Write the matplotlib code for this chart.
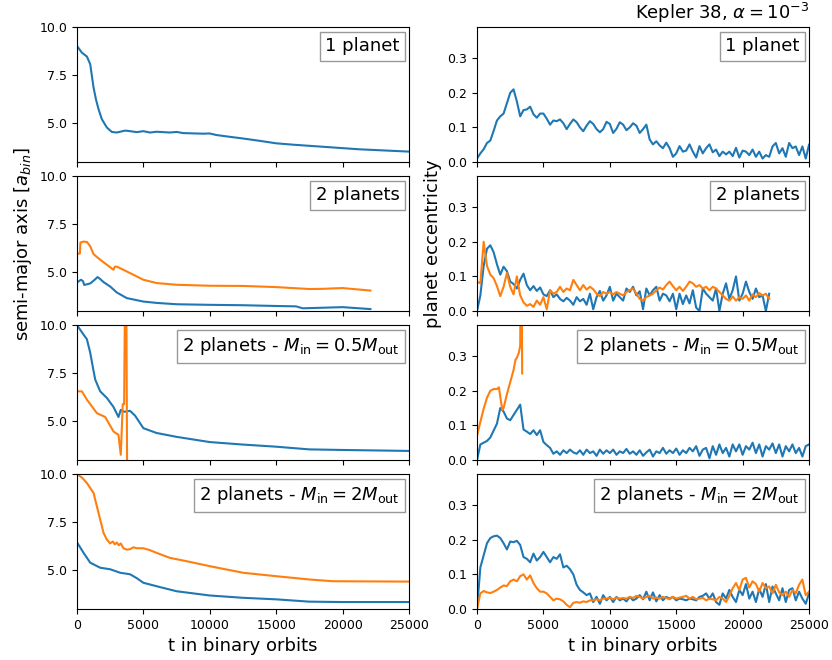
import numpy as np
import matplotlib
matplotlib.use("Agg")
import matplotlib.pyplot as plt

# time grid for the eccentricity series (binary orbits)
t_grid = np.arange(0, 25001, 250)
t_grid_2p = np.arange(0, 22001, 250)

# --- semi-major axis [a_bin] ---
t_a1 = [0, 375, 750, 1000, 1125, 1250, 1430, 1625, 1875, 2250, 2625, 3000, 3630, 4000, 4500,
        5000, 5500, 6000, 6500, 7000, 7500, 8000, 9000, 9500, 10000, 10500, 11250, 12500,
        13750, 15000, 16250, 17500, 18750, 20000, 21250, 22500, 23750, 25000]
a1 = [9.02, 8.67, 8.47, 8.07, 7.46, 6.86, 6.25, 5.74, 5.22, 4.79, 4.56, 4.53, 4.63, 4.6, 4.55,
      4.6, 4.53, 4.57, 4.55, 4.53, 4.56, 4.5, 4.48, 4.47, 4.48, 4.4, 4.33, 4.22,
      4.1, 3.97, 3.9, 3.84, 3.78, 3.72, 3.66, 3.62, 3.58, 3.54]

t_a2_in = [0, 300, 450, 550, 1000, 1300, 1550, 1750, 2000, 2500, 3000, 3750, 5000, 6000,
           7500, 10000, 12500, 15000, 16500, 17000, 18000, 20000, 22100]
a2_in = [4.48, 4.62, 4.55, 4.35, 4.43, 4.6, 4.76, 4.66, 4.5, 4.27, 3.96, 3.67, 3.49, 3.42,
         3.35, 3.32, 3.3, 3.26, 3.24, 3.14, 3.16, 3.2, 3.1]
t_a2_out = [0, 220, 260, 500, 750, 900, 1000, 1250, 1500, 1750, 2250, 2750, 2850, 3000,
            3250, 3750, 4250, 5000, 6000, 7500, 10000, 12500, 15000, 17500, 18500, 20000, 22100]
a2_out = [5.97, 5.98, 6.55, 6.6, 6.58, 6.45, 6.35, 5.95, 5.8, 5.66, 5.4, 5.14, 5.3, 5.3,
          5.22, 5.05, 4.88, 4.62, 4.45, 4.36, 4.31, 4.3, 4.24, 4.14, 4.15, 4.19, 4.06]

t_a3_in = [0, 500, 750, 1000, 1200, 1375, 1750, 2250, 2750, 3125, 3300, 3550, 4000, 4375,
           5000, 6000, 7500, 10000, 12500, 15000, 17500, 20000, 25000]
a3_in = [10.0, 9.5, 9.26, 8.56, 7.8, 7.17, 6.56, 6.22, 5.75, 5.23, 5.6, 5.5, 5.55, 5.3,
         4.65, 4.4, 4.2, 3.93, 3.8, 3.69, 3.55, 3.52, 3.47]
t_a3_out = [0, 375, 750, 1500, 2125, 2750, 3125, 3300, 3450, 3550, 3650, 3700, 3780]
a3_out = [6.56, 6.56, 6.13, 5.43, 5.23, 4.48, 4.3, 3.27, 5.9, 5.9, 14.0, 14.0, 2.0]

t_a4_in = [0, 500, 1000, 1750, 2500, 3250, 4000, 4500, 5000, 6000, 7500, 10000, 12500,
           15000, 17500, 20000, 25000]
a4_in = [6.46, 5.91, 5.4, 5.14, 5.06, 4.88, 4.8, 4.6, 4.36, 4.18, 3.92, 3.7, 3.58,
         3.5, 3.38, 3.36, 3.36]
t_a4_out = [0, 400, 750, 1250, 1500, 1750, 2000, 2250, 2500, 2700, 2850, 3000, 3150, 3300,
            3500, 3750, 4000, 4250, 4500, 5000, 5500, 6000, 7000, 8250, 10000, 12500, 15000,
            17500, 19250, 22000, 25000]
a4_out = [10.0, 9.8, 9.53, 9.02, 8.32, 7.64, 6.95, 6.6, 6.4, 6.5, 6.35, 6.45, 6.3, 6.4,
          6.15, 6.08, 6.1, 6.2, 6.15, 6.15, 6.05, 5.91, 5.65, 5.48, 5.22, 4.88, 4.7,
          4.53, 4.44, 4.43, 4.42]

# --- planet eccentricity ---
e1 = [0.010, 0.025, 0.037, 0.055, 0.062, 0.090, 0.120, 0.132, 0.140, 0.170,
      0.200, 0.210, 0.175, 0.132, 0.150, 0.152, 0.160, 0.138, 0.128, 0.140,
      0.140, 0.125, 0.108, 0.120, 0.118, 0.123, 0.112, 0.095, 0.110, 0.123,
      0.115, 0.100, 0.089, 0.105, 0.118, 0.110, 0.095, 0.086, 0.095, 0.116,
      0.110, 0.084, 0.096, 0.115, 0.108, 0.092, 0.100, 0.112, 0.105, 0.084,
      0.095, 0.108, 0.065, 0.051, 0.060, 0.048, 0.040, 0.056, 0.040, 0.015,
      0.025, 0.046, 0.030, 0.033, 0.051, 0.030, 0.013, 0.046, 0.025, 0.040,
      0.051, 0.028, 0.036, 0.017, 0.030, 0.022, 0.030, 0.017, 0.041, 0.013,
      0.033, 0.030, 0.020, 0.036, 0.015, 0.030, 0.010, 0.020, 0.015, 0.045,
      0.055, 0.025, 0.040, 0.015, 0.055, 0.040, 0.045, 0.020, 0.045, 0.010,
      0.050]

e2_in = [0.000, 0.045, 0.130, 0.180, 0.190, 0.170, 0.135, 0.105, 0.128, 0.115,
         0.085, 0.078, 0.065, 0.090, 0.108, 0.075, 0.060, 0.072, 0.058, 0.068,
         0.048, 0.043, 0.060, 0.040, 0.048, 0.035, 0.028, 0.038, 0.030, 0.018,
         0.040, 0.028, 0.035, 0.018, 0.050, 0.005, 0.040, 0.058, 0.030, 0.045,
         0.070, 0.030, 0.050, 0.040, 0.030, 0.065, 0.055, 0.070, 0.045, 0.057,
         0.005, 0.065, 0.045, 0.060, 0.070, 0.030, 0.050, 0.045, 0.028, 0.050,
         0.005, 0.050, 0.020, 0.045, 0.022, 0.060, 0.010, 0.000, 0.065, 0.050,
         0.040, 0.030, 0.065, 0.000, 0.050, 0.080, 0.035, 0.060, 0.100, 0.030,
         0.050, 0.085, 0.055, 0.035, 0.065, 0.040, 0.045, 0.000, 0.050]
e2_out = [0.085, 0.080, 0.200, 0.130, 0.105, 0.095, 0.072, 0.043, 0.070, 0.110,
          0.070, 0.048, 0.100, 0.045, 0.025, 0.015, 0.020, 0.012, 0.030, 0.018,
          0.040, 0.005, 0.060, 0.050, 0.055, 0.070, 0.055, 0.065, 0.060, 0.090,
          0.075, 0.060, 0.075, 0.062, 0.070, 0.063, 0.050, 0.043, 0.055, 0.050,
          0.055, 0.048, 0.055, 0.050, 0.045, 0.055, 0.060, 0.065, 0.050, 0.035,
          0.030, 0.040, 0.045, 0.050, 0.060, 0.068, 0.062, 0.075, 0.085, 0.072,
          0.060, 0.070, 0.058, 0.070, 0.085, 0.080, 0.070, 0.075, 0.065, 0.070,
          0.060, 0.070, 0.065, 0.055, 0.045, 0.035, 0.030, 0.042, 0.030, 0.040,
          0.035, 0.045, 0.030, 0.048, 0.040, 0.052, 0.045, 0.050, 0.035]

e3_in = [0.000, 0.045, 0.050, 0.055, 0.065, 0.085, 0.105, 0.150, 0.140, 0.120,
         0.115, 0.130, 0.145, 0.160, 0.088, 0.082, 0.075, 0.086, 0.072, 0.086,
         0.052, 0.043, 0.035, 0.018, 0.025, 0.015, 0.028, 0.020, 0.030, 0.022,
         0.018, 0.028, 0.015, 0.030, 0.020, 0.025, 0.012, 0.030, 0.018, 0.028,
         0.020, 0.030, 0.015, 0.025, 0.020, 0.032, 0.018, 0.025, 0.015, 0.028,
         0.012, 0.022, 0.030, 0.010, 0.025, 0.020, 0.035, 0.018, 0.028, 0.020,
         0.033, 0.015, 0.028, 0.020, 0.035, 0.025, 0.040, 0.012, 0.030, 0.035,
         0.005, 0.040, 0.015, 0.045, 0.020, 0.035, 0.010, 0.045, 0.025, 0.045,
         0.015, 0.040, 0.030, 0.050, 0.020, 0.045, 0.010, 0.040, 0.030, 0.048,
         0.020, 0.045, 0.010, 0.040, 0.025, 0.045, 0.020, 0.035, 0.010, 0.040,
         0.045]
t_e3_out = [0, 250, 500, 750, 1000, 1250, 1500, 1650, 1800, 1900, 2000, 2250, 2500, 2750,
            2900, 3000, 3150, 3250, 3300, 3350, 3400]
e3_out = [0.07, 0.11, 0.148, 0.18, 0.20, 0.205, 0.205, 0.21, 0.17, 0.145, 0.15, 0.19, 0.225,
          0.26, 0.29, 0.295, 0.31, 0.33, 0.60, 0.60, 0.25]

e4_in = [0.000, 0.120, 0.155, 0.190, 0.205, 0.210, 0.212, 0.205, 0.190, 0.172,
         0.195, 0.193, 0.197, 0.185, 0.150, 0.145, 0.135, 0.160, 0.140, 0.150,
         0.165, 0.150, 0.135, 0.150, 0.145, 0.158, 0.120, 0.125, 0.115, 0.100,
         0.070, 0.055, 0.048, 0.040, 0.045, 0.020, 0.035, 0.015, 0.040, 0.025,
         0.035, 0.020, 0.035, 0.025, 0.030, 0.022, 0.035, 0.025, 0.030, 0.040,
         0.028, 0.050, 0.025, 0.048, 0.022, 0.040, 0.025, 0.035, 0.030, 0.035,
         0.025, 0.030, 0.028, 0.025, 0.030, 0.028, 0.025, 0.035, 0.038, 0.045,
         0.030, 0.045, 0.020, 0.012, 0.045, 0.030, 0.055, 0.035, 0.020, 0.055,
         0.040, 0.072, 0.030, 0.050, 0.020, 0.058, 0.035, 0.072, 0.020, 0.065,
         0.045, 0.025, 0.060, 0.020, 0.055, 0.060, 0.025, 0.050, 0.030, 0.015,
         0.045]
e4_out = [0.000, 0.045, 0.052, 0.048, 0.046, 0.050, 0.055, 0.062, 0.068, 0.066,
          0.080, 0.085, 0.080, 0.095, 0.100, 0.085, 0.097, 0.075, 0.060, 0.050,
          0.050, 0.045, 0.035, 0.025, 0.030, 0.028, 0.022, 0.012, 0.005, 0.018,
          0.020, 0.018, 0.022, 0.020, 0.025, 0.025, 0.028, 0.025, 0.030, 0.030,
          0.032, 0.028, 0.033, 0.030, 0.032, 0.030, 0.035, 0.032, 0.038, 0.035,
          0.030, 0.035, 0.038, 0.030, 0.033, 0.030, 0.035, 0.032, 0.028, 0.035,
          0.030, 0.033, 0.035, 0.038, 0.030, 0.035, 0.028, 0.030, 0.032, 0.025,
          0.030, 0.028, 0.025, 0.035, 0.030, 0.020, 0.038, 0.060, 0.075, 0.055,
          0.085, 0.090, 0.062, 0.080, 0.072, 0.050, 0.075, 0.060, 0.065, 0.045,
          0.070, 0.048, 0.040, 0.050, 0.035, 0.055, 0.045, 0.070, 0.085, 0.040,
          0.050]

labels = ['1 planet', '2 planets',
          r'2 planets - $M_\mathrm{in} = 0.5M_\mathrm{out}$',
          r'2 planets - $M_\mathrm{in} = 2M_\mathrm{out}$']

fig, axes = plt.subplots(4, 2, figsize=(8.32, 6.6), dpi=100, sharex=True)
fig.subplots_adjust(left=0.0925, right=0.9724, top=0.959, bottom=0.0773,
                    hspace=0.104, wspace=0.205)

blue, orange = 'tab:blue', 'tab:orange'

# left column: semi-major axis
axes[0, 0].plot(t_a1, a1, color=blue)
axes[1, 0].plot(t_a2_in, a2_in, color=blue)
axes[1, 0].plot(t_a2_out, a2_out, color=orange)
axes[2, 0].plot(t_a3_in, a3_in, color=blue)
axes[2, 0].plot(t_a3_out, a3_out, color=orange)
axes[3, 0].plot(t_a4_in, a4_in, color=blue)
axes[3, 0].plot(t_a4_out, a4_out, color=orange)

# right column: eccentricity
axes[0, 1].plot(t_grid, e1, color=blue)
axes[1, 1].plot(t_grid_2p, e2_in, color=blue)
axes[1, 1].plot(t_grid_2p, e2_out, color=orange)
axes[2, 1].plot(t_grid, e3_in, color=blue)
axes[2, 1].plot(t_e3_out, e3_out, color=orange)
axes[3, 1].plot(t_grid, e4_in, color=blue)
axes[3, 1].plot(t_grid, e4_out, color=orange)

for i in range(4):
    for j in range(2):
        ax = axes[i, j]
        ax.set_xlim(0, 25000)
        ax.tick_params(labelsize=9)
        if j == 0:
            ax.set_ylim(3.0, 10.0)
            ax.set_yticks([5.0, 7.5, 10.0])
        else:
            ax.set_ylim(0, 0.39)
            ax.set_yticks([0.0, 0.1, 0.2, 0.3])
        ax.text(0.972, 0.925, labels[i], transform=ax.transAxes, ha='right', va='top',
                fontsize=13, bbox=dict(boxstyle='square,pad=0.3', fc='white', ec='0.6', lw=1))

axes[3, 0].set_xticks([0, 5000, 10000, 15000, 20000, 25000])
axes[1, 0].set_ylabel(r'semi-major axis [$a_{bin}$]', fontsize=13)
axes[1, 1].set_ylabel('planet eccentricity', fontsize=13)
axes[3, 0].set_xlabel('t in binary orbits', fontsize=13)
axes[3, 1].set_xlabel('t in binary orbits', fontsize=13)
axes[0, 1].set_title(r'Kepler 38, $\alpha = 10^{-3}$', loc='right', fontsize=13)

fig.savefig('out.png', dpi=100)
